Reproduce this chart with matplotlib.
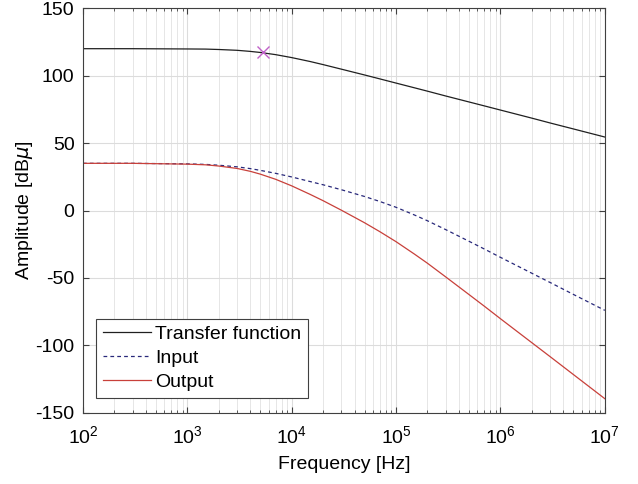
import numpy as np
import matplotlib
matplotlib.use('Agg')
import matplotlib.pyplot as plt
from matplotlib.ticker import LogLocator, NullFormatter

# Frequencies [Hz] the curves were read at
freq = [1e2, 3e2, 1e3, 1.5e3, 2e3, 3e3, 4e3, 5e3, 7e3, 1e4, 1.5e4, 2e4, 3e4, 5e4, 7e4,
        1e5, 1.5e5, 2e5, 3e5, 5e5, 7e5, 1e6, 2e6, 3e6, 5e6, 1e7]

# Amplitudes [dBu]
transfer = [120.0, 120.0, 119.8, 119.7, 119.4, 118.8, 118.0, 117.2, 115.6, 113.4,
            110.5, 108.2, 104.8, 100.5, 97.6, 94.5, 91.0, 88.5, 84.9, 80.5,
            77.6, 74.5, 68.5, 64.9, 60.5, 54.5]
input_sig = [35.0, 35.0, 34.6, 34.2, 33.6, 32.4, 31.1, 29.8, 27.6, 24.9,
             21.5, 19.1, 15.4, 10.4, 6.7, 2.4, -3.3, -7.6, -14.2, -22.8,
             -28.5, -34.7, -46.5, -53.4, -62.2, -74.0]
output_sig = [35.0, 35.0, 34.4, 33.9, 33.0, 31.2, 29.1, 27.0, 23.2, 18.3,
              12.0, 7.3, 0.2, -9.1, -15.7, -23.1, -32.3, -39.1, -49.3, -62.3,
              -70.9, -80.2, -98.0, -108.4, -121.6, -139.5]

# -3 dB point of the transfer function
corner_f = 5.3e3
corner_a = 117.2

plt.rcParams['font.family'] = ['Liberation Sans', 'DejaVu Sans']
plt.rcParams['font.size'] = 14
plt.rcParams['axes.unicode_minus'] = False

fig = plt.figure(figsize=(6.38, 4.84), dpi=100)
ax = fig.add_axes([0.130, 0.147, 0.818, 0.836])

ax.semilogx(freq, transfer, color='#202020', lw=0.9, label='Transfer function')
ax.semilogx(freq, input_sig, color='#28287a', lw=0.9, ls=(0, (3, 2.5)), label='Input')
ax.semilogx(freq, output_sig, color='#c8403a', lw=0.9, label='Output')
ax.plot(corner_f, corner_a, 'x', color='#c060c8', ms=9, mew=1.0)

ax.set_xlim(1e2, 1e7)
ax.set_ylim(-150, 150)
ax.set_yticks(np.arange(-150, 151, 50))
ax.xaxis.set_minor_locator(LogLocator(base=10, subs=np.arange(2, 10), numticks=20))
ax.xaxis.set_minor_formatter(NullFormatter())

ax.grid(True, which='major', color='#dcdcdc', lw=0.8)
ax.grid(True, which='minor', axis='x', color='#e6e6e6', lw=0.7)
ax.set_axisbelow(True)

ax.tick_params(which='both', direction='in', top=True, right=True, color='#404040')
ax.tick_params(which='major', length=4, labelsize=14, pad=6)
ax.tick_params(axis='x', which='major', pad=9)
ax.tick_params(which='minor', length=2.5)
for s in ax.spines.values():
    s.set_color('#404040')
    s.set_linewidth(0.8)

ax.set_xlabel('Frequency [Hz]', fontsize=14, labelpad=6)
ax.set_ylabel(r'Amplitude [dB$\mu$]', fontsize=14, labelpad=0)

leg = ax.legend(loc='lower left', bbox_to_anchor=(0.025, 0.037), borderaxespad=0,
                fancybox=False, framealpha=1, edgecolor='#404040',
                handlelength=2.5, handletextpad=0.2, labelspacing=0.33,
                borderpad=0.35, fontsize=14)
leg.get_frame().set_linewidth(0.8)

fig.savefig('out.png', dpi=100)
